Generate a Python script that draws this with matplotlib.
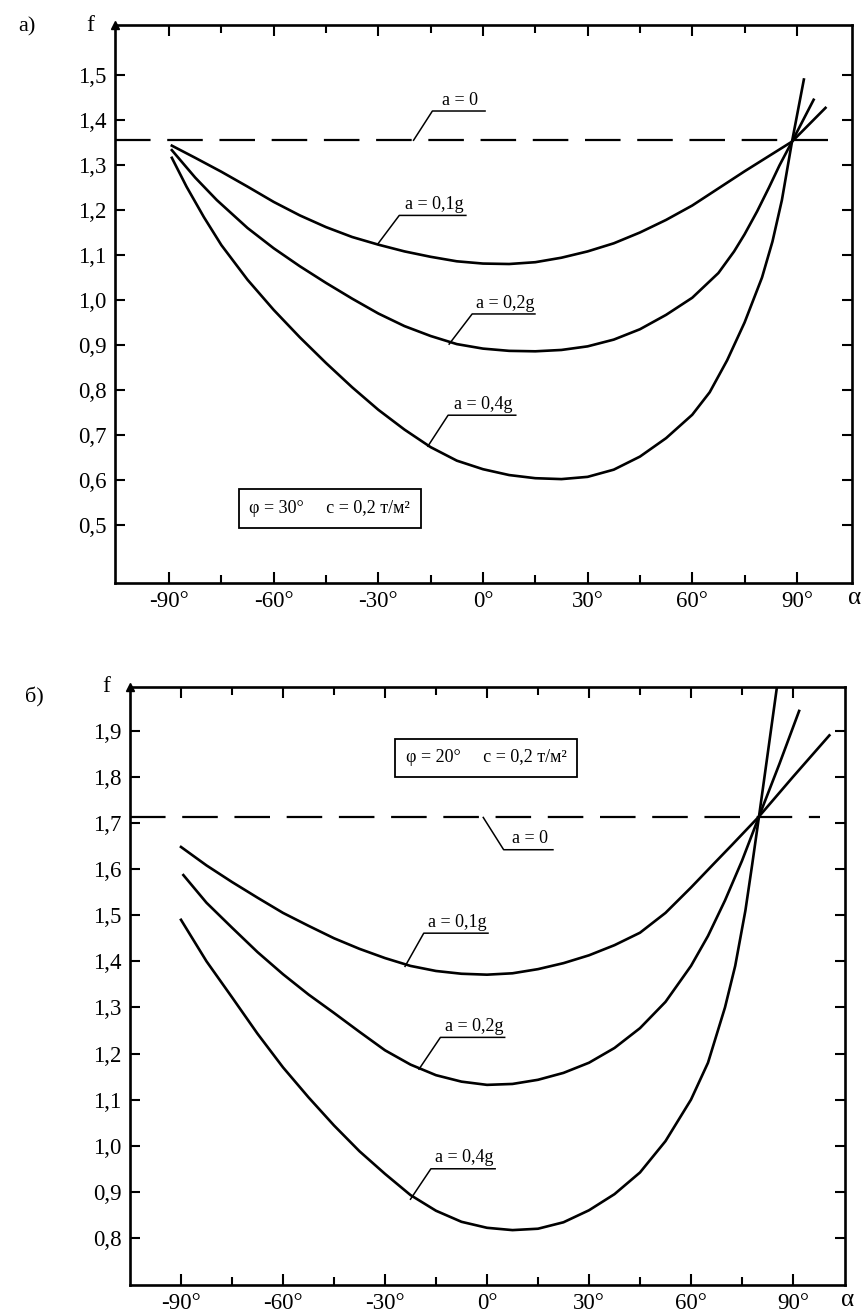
import numpy as np
import matplotlib
matplotlib.use("Agg")
import matplotlib.pyplot as plt

plt.rcParams['font.family'] = ['Liberation Serif', 'DejaVu Serif']

# ---- panel a)  phi = 30 deg ----
a_alpha_01 = [-89.2, -82.5, -75, -67.5, -60, -52.5, -45, -37.5, -30, -22.5, -15, -7.5, 0, 7.5, 15,
              22.5, 30, 37.5, 45, 52.5, 60, 67.5, 75, 82, 88.6, 98.2]
a_f_01 = [1.343, 1.316, 1.285, 1.252, 1.218, 1.188, 1.162, 1.140, 1.123, 1.108, 1.096, 1.086, 1.081,
          1.080, 1.084, 1.094, 1.108, 1.126, 1.150, 1.178, 1.210, 1.248, 1.286, 1.320, 1.352, 1.427]

a_alpha_02 = [-89.2, -82.5, -76.3, -67.5, -60, -52.5, -45, -37.5, -30, -22.5, -15, -7.5, 0, 7.5, 15,
              22.5, 30, 37.5, 45, 52.5, 60, 67.5, 72, 75, 78.6, 82, 85, 88.6, 94.8]
a_f_02 = [1.333, 1.272, 1.222, 1.160, 1.115, 1.075, 1.038, 1.003, 0.970, 0.942, 0.920, 0.902, 0.892,
          0.887, 0.886, 0.889, 0.897, 0.912, 0.935, 0.967, 1.005, 1.060, 1.108, 1.146, 1.197, 1.250,
          1.299, 1.352, 1.445]

a_alpha_04 = [-89.2, -85, -80, -75, -67.5, -60, -52.5, -45, -37.5, -30, -22.5, -15, -7.5, 0, 7.5, 15,
              22.5, 30, 37.5, 45, 52.5, 60, 65, 70, 75, 80, 83, 85.7, 88.6, 92.0]
a_f_04 = [1.316, 1.252, 1.184, 1.122, 1.045, 0.978, 0.917, 0.860, 0.806, 0.756, 0.712, 0.673, 0.643,
          0.624, 0.611, 0.604, 0.602, 0.607, 0.623, 0.652, 0.693, 0.745, 0.795, 0.866, 0.950, 1.050,
          1.130, 1.222, 1.352, 1.490]

a_f_static = 1.355  # a = 0

# ---- panel б)  phi = 20 deg ----
b_alpha_01 = [-90, -82.5, -75, -67.5, -60, -52.5, -45, -37.5, -30, -22.5, -15, -7.5, 0, 7.5, 15,
              22.5, 30, 37.5, 45, 52.5, 60, 66.5, 72, 76, 80, 90, 100.7]
b_f_01 = [1.648, 1.608, 1.572, 1.538, 1.505, 1.477, 1.450, 1.427, 1.407, 1.390, 1.379, 1.373, 1.371,
          1.374, 1.383, 1.396, 1.413, 1.435, 1.462, 1.505, 1.560, 1.610, 1.652, 1.683, 1.714, 1.800,
          1.890]

b_alpha_02 = [-89.3, -82.5, -75, -67.5, -60, -52.5, -45, -37.5, -30, -22.5, -15, -7.5, 0, 7.5, 15,
              22.5, 30, 37.5, 45, 52.5, 60, 65, 70, 75, 80, 86, 91.8]
b_f_02 = [1.587, 1.527, 1.473, 1.420, 1.372, 1.328, 1.288, 1.247, 1.207, 1.176, 1.153, 1.139, 1.132,
          1.134, 1.143, 1.158, 1.180, 1.212, 1.255, 1.312, 1.390, 1.455, 1.532, 1.618, 1.714, 1.828,
          1.943]

b_alpha_04 = [-90, -82.5, -75, -67.5, -60, -52.5, -45, -37.5, -30, -22.5, -15, -7.5, 0, 7.5, 15,
              22.5, 30, 37.5, 45, 52.5, 60, 65, 70, 73, 76, 78, 80, 86.5]
b_f_04 = [1.490, 1.400, 1.322, 1.243, 1.170, 1.105, 1.044, 0.988, 0.939, 0.893, 0.859, 0.835, 0.822,
          0.817, 0.820, 0.834, 0.860, 0.895, 0.942, 1.010, 1.100, 1.180, 1.300, 1.390, 1.510, 1.610,
          1.714, 2.060]

b_f_static = 1.712

# ticks
x_major = [-90, -60, -30, 0, 30, 60, 90]
x_minor = [-75, -45, -15, 15, 45, 75]
x_labels = ['-90°', '-60°', '-30°', '0°', '30°', '60°', '90°']
a_yticks = [0.5, 0.6, 0.7, 0.8, 0.9, 1.0, 1.1, 1.2, 1.3, 1.4, 1.5]
b_yticks = [0.8, 0.9, 1.0, 1.1, 1.2, 1.3, 1.4, 1.5, 1.6, 1.7, 1.8, 1.9]

curve_labels = ['a = 0', 'a = 0,1g', 'a = 0,2g', 'a = 0,4g']


def draw_panel(ax, curves, f_static, dash_end, yticks, xlim, ylim, leaders, box_text, box_xy):
    ax.set_xlim(*xlim)
    ax.set_ylim(*ylim)
    ax.plot([xlim[0], dash_end], [f_static, f_static], color='black', lw=1.6,
            dashes=(16, 7.5))
    for al, fv in curves:
        ax.plot(al, fv, color='black', lw=1.9, solid_joinstyle='round')

    # leader lines with labels
    for lab, (x0, y0, x1, y1, x2) in zip(curve_labels, leaders):
        ax.plot([x0, x1, x2], [y0, y1, y1], color='black', lw=1.1)
        ax.text((x1 + x2) / 2 + 0.5, y1 + 0.004 * (ylim[1] - ylim[0]), lab,
                ha='center', va='bottom', fontsize=13)

    ax.text(box_xy[0], box_xy[1], box_text, ha='center', va='center', fontsize=13,
            bbox=dict(boxstyle='square,pad=0.6', fc='white', ec='black', lw=1.3))

    ax.set_xticks(x_major)
    ax.set_xticklabels(x_labels)
    ax.set_xticks(x_minor, minor=True)
    ax.set_yticks(yticks)
    ax.set_yticklabels([f'{v:.1f}'.replace('.', ',') for v in yticks])
    ax.tick_params(axis='both', which='both', direction='in', top=True, right=True,
                   width=1.5, labelsize=16.5, pad=6)
    ax.tick_params(axis='x', which='major', length=8)
    ax.tick_params(axis='x', which='minor', length=6)
    ax.tick_params(axis='y', which='major', length=7)
    for s in ax.spines.values():
        s.set_linewidth(1.9)

    # arrow on the f axis, axis names
    ax.plot([0], [1], marker='^', color='black', markersize=6, transform=ax.transAxes,
            clip_on=False)
    ax.text(-0.028, 1.0, 'f', transform=ax.transAxes, ha='right', va='center', fontsize=17)
    ax.annotate('α', xy=(1, 0), xycoords='axes fraction', xytext=(3, -15),
                textcoords='offset pixels', ha='center', va='center', fontsize=18)


fig = plt.figure(figsize=(8.62, 13.12), dpi=100)

ax1 = fig.add_axes([0.1334, 0.5556, 0.855, 0.4253])
draw_panel(ax1,
           [(a_alpha_01, a_f_01), (a_alpha_02, a_f_02), (a_alpha_04, a_f_04)],
           a_f_static, 99, a_yticks, (-105.5, 105.8), (0.371, 1.611),
           [(-19.9, a_f_static, -14.5, 1.420, 0.6),
            (-30.2, 1.124, -24.0, 1.188, -4.9),
            (-9.7, 0.902, -3.1, 0.969, 14.9),
            (-15.8, 0.675, -10.0, 0.744, 9.4)],
           'φ = 30°     c = 0,2 т/м²', (-43.9, 0.536))
fig.text(18 / 862, 1 - 27 / 1312, 'а)', fontsize=16, ha='left', va='center')

ax2 = fig.add_axes([0.1508, 0.0206, 0.8295, 0.4558])
draw_panel(ax2,
           [(b_alpha_01, b_f_01), (b_alpha_02, b_f_02), (b_alpha_04, b_f_04)],
           b_f_static, 98, b_yticks, (-105.0, 105.3), (0.698, 1.995),
           [(-1.1, b_f_static, 4.9, 1.642, 19.4),
            (-24.1, 1.389, -18.6, 1.461, 0.3),
            (-20.0, 1.166, -13.7, 1.235, 5.2),
            (-22.5, 0.884, -16.5, 0.950, 2.4)],
           'φ = 20°     c = 0,2 т/м²', (-0.3, 1.841))
fig.text(25 / 862, 1 - 697 / 1312, 'б)', fontsize=16, ha='left', va='center')

fig.savefig('out.png', dpi=100)
